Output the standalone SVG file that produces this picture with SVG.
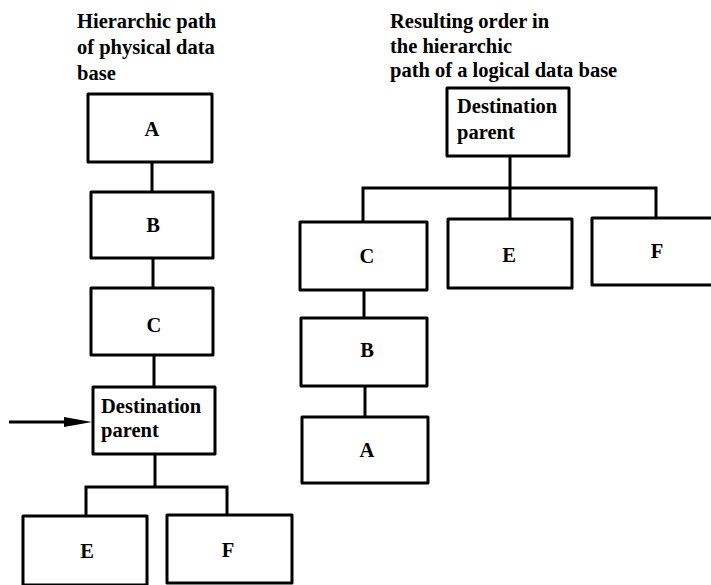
<svg xmlns="http://www.w3.org/2000/svg" width="711" height="585" viewBox="0 0 711 585">
<style>
.box{fill:#fff;stroke:#000;stroke-width:3;stroke-linejoin:round}
.ln{fill:none;stroke:#000;stroke-width:3}
text{font-family:"Liberation Serif","Times New Roman",serif;font-weight:bold;font-size:20.5px;fill:#000}
.c{text-anchor:middle}
</style>
<rect width="711" height="585" fill="#fff"/>
<g id="titles">
<text x="77" y="28">Hierarchic path</text>
<text x="77" y="54">of physical data</text>
<text x="77" y="80">base</text>
<text x="390" y="28">Resulting order in</text>
<text x="390" y="53">the hierarchic</text>
<text x="390" y="77">path of a logical data base</text>
</g>
<g id="connectors">
<line class="ln" x1="152" y1="162" x2="152" y2="192"/>
<line class="ln" x1="153" y1="258" x2="153" y2="288"/>
<line class="ln" x1="154" y1="355" x2="154" y2="387"/>
<path class="ln" d="M155,454 V487 M86,516 V487 H227 V514"/>
<path d="M9,422 H68" stroke="#000" stroke-width="3"/>
<path d="M64,417 L92,422 L64,427 Z" fill="#000"/>
<path class="ln" d="M510,156 V188 M363,222 V188 H656 V218 M510,188 V219"/>
<line class="ln" x1="364" y1="290" x2="364" y2="318"/>
<line class="ln" x1="365" y1="386" x2="365" y2="417"/>
</g>
<g id="l-A"><rect class="box" x="88" y="94" width="124" height="68"/><text class="c" x="152" y="136">A</text></g>
<g id="l-B"><rect class="box" x="91" y="192" width="122" height="66"/><text class="c" x="153" y="232">B</text></g>
<g id="l-C"><rect class="box" x="91" y="288" width="122" height="67"/><text class="c" x="154" y="332">C</text></g>
<g id="l-dest"><rect class="box" x="93" y="387" width="122" height="67"/><text x="101" y="413">Destination</text><text x="101" y="437">parent</text></g>
<g id="l-E"><rect class="box" x="23" y="516" width="124" height="69"/><text class="c" x="87" y="558">E</text></g>
<g id="l-F"><rect class="box" x="167" y="515" width="125" height="68"/><text class="c" x="228" y="557">F</text></g>
<g id="r-dest"><rect class="box" x="447" y="88" width="122" height="68"/><text x="457" y="113">Destination</text><text x="457" y="139">parent</text></g>
<g id="r-C"><rect class="box" x="300" y="222" width="127" height="68"/><text class="c" x="367" y="263">C</text></g>
<g id="r-E"><rect class="box" x="448" y="219" width="124" height="69"/><text class="c" x="509" y="262">E</text></g>
<g id="r-F"><rect class="box" x="592" y="218" width="130" height="67"/><text class="c" x="657" y="258">F</text></g>
<g id="r-B"><rect class="box" x="301" y="318" width="126" height="68"/><text class="c" x="367" y="357">B</text></g>
<g id="r-A"><rect class="box" x="302" y="417" width="126" height="66"/><text class="c" x="367" y="457">A</text></g>
</svg>
